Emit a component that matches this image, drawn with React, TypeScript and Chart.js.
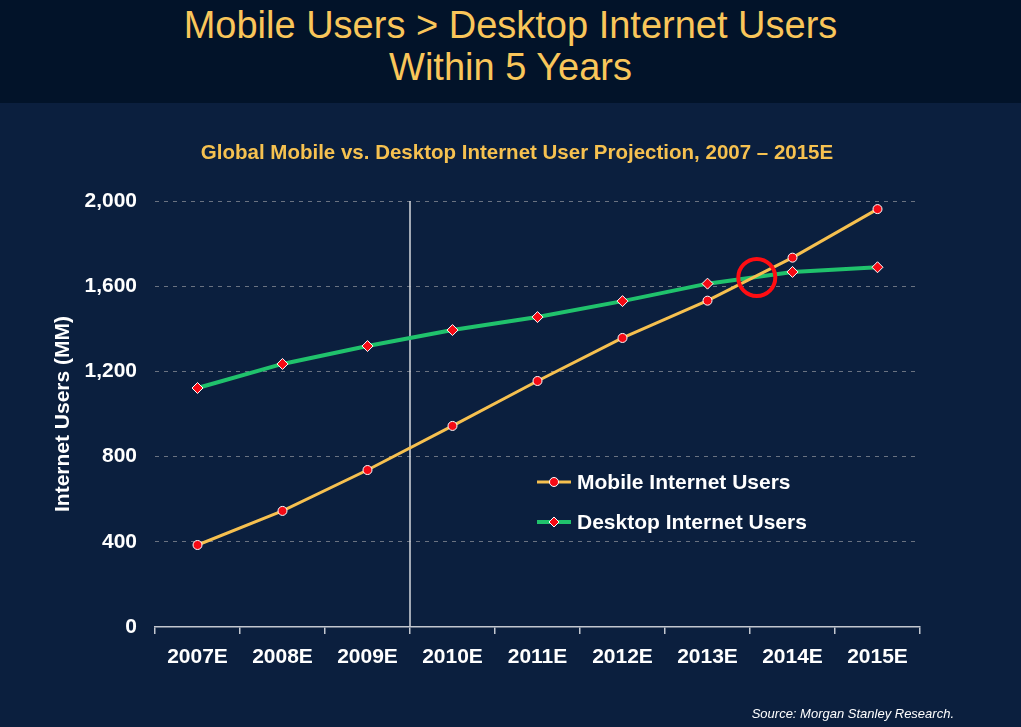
import React, { useEffect, useRef } from 'react';
import { Chart, registerables } from 'chart.js';

Chart.register(...registerables);

const categories = ['2007E', '2008E', '2009E', '2010E', '2011E', '2012E', '2013E', '2014E', '2015E'];
const mobileUsers = [385, 545, 737, 944, 1155, 1357, 1532, 1734, 1962];
const desktopUsers = [1122, 1235, 1319, 1394, 1455, 1530, 1612, 1667, 1689];
const yTickValues = [0, 400, 800, 1200, 1600, 2000];
const dividerAfterIndex = 2; // line between 2009E and 2010E
const crossoverIndex = 6.58;
const crossoverValue = 1641;

const titleLines = ['Mobile Users > Desktop Internet Users', 'Within 5 Years'];
const subtitle = 'Global Mobile vs. Desktop Internet User Projection, 2007 \u2013 2015E';
const yAxisTitle = 'Internet Users (MM)';
const sourceText = 'Source: Morgan Stanley Research.';

const FONT = "'Liberation Sans', Arial, Helvetica, sans-serif";
const MOBILE_COLOR = '#f6c04f';
const DESKTOP_COLOR = '#20c26c';
const MARKER_RED = '#f50a14';

const overlayPlugin = {
  id: 'overlay',
  beforeDatasetsDraw(chart: any) {
    const { ctx, chartArea, scales } = chart;
    const x = (scales.x.getPixelForValue(dividerAfterIndex) + scales.x.getPixelForValue(dividerAfterIndex + 1)) / 2;
    ctx.save();
    ctx.strokeStyle = '#c9ccd3';
    ctx.lineWidth = 1.6;
    ctx.beginPath();
    ctx.moveTo(x, chartArea.top);
    ctx.lineTo(x, chartArea.bottom);
    ctx.stroke();
    ctx.restore();
  },
  afterDatasetsDraw(chart: any) {
    const { ctx, chartArea, scales } = chart;
    // crossover circle
    const cx = scales.x.getPixelForValue(crossoverIndex);
    const cy = scales.y.getPixelForValue(crossoverValue);
    ctx.save();
    ctx.strokeStyle = '#ff0d12';
    ctx.lineWidth = 4;
    ctx.beginPath();
    ctx.arc(cx, cy, 18.5, 0, Math.PI * 2);
    ctx.stroke();

    // subtitle
    ctx.fillStyle = '#f6c150';
    ctx.font = `bold 20.5px ${FONT}`;
    ctx.textAlign = 'center';
    ctx.textBaseline = 'middle';
    ctx.fillText(subtitle, 517, 50);

    // legend
    const lx = chartArea.left + 382;
    const ly = chartArea.top + 281;
    chart.data.datasets.forEach((ds: any, i: number) => {
      const y = ly + i * 40;
      ctx.strokeStyle = ds.borderColor;
      ctx.lineWidth = ds.borderWidth;
      ctx.beginPath();
      ctx.moveTo(lx, y);
      ctx.lineTo(lx + 34, y);
      ctx.stroke();
      const mx = lx + 17;
      ctx.fillStyle = MARKER_RED;
      ctx.strokeStyle = '#ffffff';
      ctx.lineWidth = 1;
      ctx.beginPath();
      if (ds.pointStyle === 'rectRot') {
        const r = 5;
        ctx.moveTo(mx, y - r);
        ctx.lineTo(mx + r, y);
        ctx.lineTo(mx, y + r);
        ctx.lineTo(mx - r, y);
        ctx.closePath();
      } else {
        ctx.arc(mx, y, 4.5, 0, Math.PI * 2);
      }
      ctx.fill();
      ctx.stroke();
      ctx.fillStyle = '#ffffff';
      ctx.font = `bold 21px ${FONT}`;
      ctx.textAlign = 'left';
      ctx.textBaseline = 'middle';
      ctx.fillText(ds.label, lx + 40, y + 1);
    });
    ctx.restore();
  },
};

function ChartCanvas() {
  const ref = useRef<HTMLCanvasElement | null>(null);
  useEffect(() => {
    if (!ref.current) return;
    const chart = new Chart(ref.current, {
      type: 'line',
      data: {
        labels: categories,
        datasets: [
          {
            label: 'Mobile Internet Users',
            data: mobileUsers,
            borderColor: MOBILE_COLOR,
            borderWidth: 3,
            pointStyle: 'circle',
            pointRadius: 4.5,
            pointBackgroundColor: MARKER_RED,
            pointBorderColor: '#ffffff',
            pointBorderWidth: 1,
            tension: 0,
          },
          {
            label: 'Desktop Internet Users',
            data: desktopUsers,
            borderColor: DESKTOP_COLOR,
            borderWidth: 4,
            pointStyle: 'rectRot',
            pointRadius: 5.5,
            pointBackgroundColor: MARKER_RED,
            pointBorderColor: '#ffffff',
            pointBorderWidth: 1,
            tension: 0,
          },
        ],
      },
      options: {
        responsive: false,
        animation: false,
        layout: { padding: { left: 0, right: 101, top: 98, bottom: 0 } },
        plugins: {
          legend: { display: false },
          title: { display: false },
          tooltip: { enabled: false },
        },
        scales: {
          x: {
            offset: true,
            afterFit: (scale: any) => { scale.height = 100; },
            grid: {
              offset: true,
              drawOnChartArea: false,
              drawTicks: true,
              tickLength: 7,
              color: '#c3c7cf',
              lineWidth: 1.5,
            },
            border: { display: true, color: '#c3c7cf', width: 1.5 },
            ticks: {
              color: '#ffffff',
              font: { family: FONT, size: 21, weight: 'bold' },
              padding: 11,
              maxRotation: 0,
            },
          },
          y: {
            min: 0,
            max: 2000,
            afterFit: (scale: any) => { scale.width = 155; },
            afterBuildTicks: (scale: any) => {
              scale.ticks = yTickValues.map((v) => ({ value: v }));
            },
            grid: {
              drawTicks: false,
              color: (c: any) => (c.tick && c.tick.value === 0 ? 'rgba(0,0,0,0)' : '#6a7281'),
              lineWidth: 1,
            },
            border: { display: false, dash: [4, 5] },
            ticks: {
              color: '#ffffff',
              font: { family: FONT, size: 21, weight: 'bold' },
              padding: 18,
              callback: (v: any) => Number(v).toLocaleString('en-US'),
            },
            title: {
              display: true,
              text: yAxisTitle,
              color: '#ffffff',
              font: { family: FONT, size: 21, weight: 'bold' },
              padding: { top: 51, bottom: 0 },
            },
          },
        },
      } as any,
      plugins: [overlayPlugin],
    });
    return () => chart.destroy();
  }, []);
  return <canvas ref={ref} width={1021} height={624} style={{ display: 'block', width: 1021, height: 624 }} />;
}

export default function App() {
  useEffect(() => {
    document.body.style.margin = '0';
    document.body.style.background = '#0b1f3e';
  }, []);
  return (
    <div style={{ position: 'relative', width: 1021, height: 727, background: '#0b1f3e', overflow: 'hidden' }}>
      <div
        style={{
          height: 103,
          background: '#021329',
          boxSizing: 'border-box',
          paddingTop: 4,
          textAlign: 'center',
          color: '#f9c65a',
          fontFamily: FONT,
          fontSize: 38,
          lineHeight: '42px',
        }}
      >
        {titleLines.map((t) => (
          <div key={t}>{t}</div>
        ))}
      </div>
      <ChartCanvas />
      <div
        style={{
          position: 'absolute',
          right: 1021 - 954,
          top: 704,
          color: '#ffffff',
          fontFamily: FONT,
          fontStyle: 'italic',
          fontSize: 13,
          lineHeight: '20px',
          whiteSpace: 'nowrap',
        }}
      >
        {sourceText}
      </div>
    </div>
  );
}
